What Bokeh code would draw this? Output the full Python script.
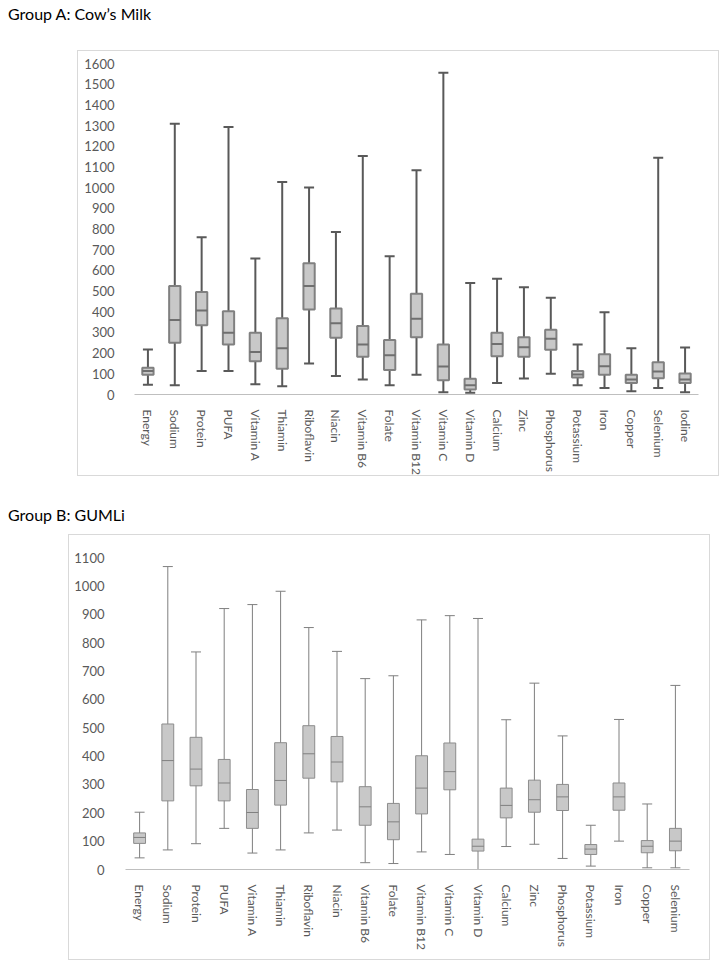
from bokeh.plotting import figure
from bokeh.models import (ColumnDataSource, FactorRange, Range1d, Whisker, TeeHead,
                          FixedTicker, Div)
from bokeh.transform import dodge
from bokeh.layouts import column
from bokeh.embed import file_html
from bokeh.resources import INLINE

# ---------------- data ----------------
title_a = "Group A: Cow\u2019s Milk"
title_b = "Group B: GUMLi"

cats_a = ["Energy", "Sodium", "Protein", "PUFA", "Vitamin A", "Thiamin", "Riboflavin",
          "Niacin", "Vitamin B6", "Folate", "Vitamin B12", "Vitamin C", "Vitamin D",
          "Calcium", "Zinc", "Phosphorus", "Potassium", "Iron", "Copper", "Selenium", "Iodine"]
min_a = [47, 45, 113, 113, 50, 40, 150, 89, 73, 45, 95, 11, 8, 56, 77, 100, 45, 31, 16, 32, 11]
q1_a = [95, 250, 335, 242, 161, 124, 411, 274, 182, 118, 277, 69, 24, 185, 182, 216, 82, 95, 56, 79, 55]
med_a = [113, 360, 406, 298, 206, 223, 524, 345, 242, 190, 366, 135, 45, 244, 229, 269, 97, 137, 73, 111, 73]
q3_a = [129, 524, 495, 403, 298, 369, 635, 416, 331, 263, 487, 242, 76, 298, 277, 313, 113, 195, 95, 156, 102]
max_a = [218, 1309, 760, 1293, 658, 1027, 1001, 785, 1153, 668, 1084, 1555, 539, 560, 518, 468, 242, 397, 224, 1144, 227]
ticks_a = [0, 100, 200, 300, 400, 500, 600, 700, 800, 900, 1000, 1100, 1200, 1300, 1400, 1500, 1600]

cats_b = ["Energy", "Sodium", "Protein", "PUFA", "Vitamin A", "Thiamin", "Riboflavin",
          "Niacin", "Vitamin B6", "Folate", "Vitamin B12", "Vitamin C", "Vitamin D",
          "Calcium", "Zinc", "Phosphorus", "Potassium", "Iron", "Copper", "Selenium"]
min_b = [41, 69, 91, 145, 58, 69, 129, 139, 24, 21, 62, 53, 0, 81, 89, 39, 12, 100, 6, 6]
q1_b = [92, 242, 295, 242, 145, 227, 322, 309, 156, 105, 196, 281, 65, 182, 202, 208, 53, 209, 59, 66]
med_b = [113, 384, 354, 305, 201, 314, 408, 379, 221, 168, 287, 345, 82, 226, 246, 256, 72, 256, 82, 100]
q3_b = [129, 513, 466, 388, 282, 447, 507, 469, 292, 233, 401, 446, 107, 287, 315, 300, 88, 305, 102, 145]
max_b = [202, 1068, 767, 920, 934, 981, 853, 769, 673, 683, 880, 895, 885, 528, 657, 471, 156, 529, 231, 649]
ticks_b = [0, 100, 200, 300, 400, 500, 600, 700, 800, 900, 1000, 1100]

FONT = "Lato"
LABEL_COLOR = "#595959"
BOX_FILL = "#c8c8c8"


def make_panel(cats, mins, q1, med, q3, maxs, ticks, ymax, width, height,
               mb_left, mb_right, mb_top, mb_bottom, y_standoff, margin,
               box_line, whisk_line, med_line, lw):
    src = ColumnDataSource(dict(cat=cats, mn=mins, q1=q1, med=med, q3=q3, mx=maxs))
    p = figure(x_range=FactorRange(factors=cats), y_range=Range1d(0, ymax),
               width=width, height=height, output_backend="svg", toolbar_location=None,
               min_border_left=mb_left, min_border_right=mb_right,
               min_border_top=mb_top, min_border_bottom=mb_bottom, margin=margin)
    p.styles = {"border": "1px solid #d9d9d9"}
    w = Whisker(source=src, base="cat", lower="mn", upper="mx",
                line_color=whisk_line, line_width=lw,
                upper_head=TeeHead(size=10, line_color=whisk_line, line_width=lw),
                lower_head=TeeHead(size=10, line_color=whisk_line, line_width=lw),
                level="underlay")
    p.add_layout(w)
    p.vbar(x="cat", top="q3", bottom="q1", width=0.42, source=src,
           fill_color=BOX_FILL, line_color=box_line, line_width=lw)
    p.segment(x0=dodge("cat", -0.21, range=p.x_range), x1=dodge("cat", 0.21, range=p.x_range),
              y0="med", y1="med", source=src, line_color=med_line, line_width=lw)

    p.xgrid.visible = False
    p.ygrid.visible = False
    p.outline_line_color = None

    p.xaxis.major_label_orientation = "vertical"
    p.xaxis.major_tick_line_color = None
    p.xaxis.minor_tick_line_color = None
    p.xaxis.axis_line_color = "#bfbfbf"
    p.xaxis.major_label_standoff = 9
    p.xaxis.major_label_text_font = FONT
    p.xaxis.major_label_text_font_size = "12px"
    p.xaxis.major_label_text_color = LABEL_COLOR

    p.yaxis.ticker = FixedTicker(ticks=ticks)
    p.yaxis.axis_line_color = None
    p.yaxis.major_tick_line_color = None
    p.yaxis.minor_tick_line_color = None
    p.yaxis.major_label_standoff = y_standoff
    p.yaxis.major_label_text_font = FONT
    p.yaxis.major_label_text_font_size = "13px"
    p.yaxis.major_label_text_color = LABEL_COLOR
    return p


def make_title(text, margin):
    return Div(text=text, width=400, height=18, margin=margin,
               styles={"font-family": FONT, "font-size": "16px", "color": "#000000",
                       "line-height": "18px"})


div_a = make_title(title_a, (5, 0, 0, 8))
p_a = make_panel(cats_a, min_a, q1_a, med_a, q3_a, max_a, ticks_a, 1600,
                 642, 426, 46, 0, 12, 82, 14, (27, 0, 0, 77),
                 "#808080", "#595959", "#6f6f6f", 2)
div_b = make_title(title_b, (30, 0, 0, 8))
p_b = make_panel(cats_b, min_b, q1_b, med_b, q3_b, max_b, ticks_b, 1100,
                 642, 426, 56, 22, 22, 92, 15, (10, 0, 0, 68),
                 "#8c8c8c", "#7f7f7f", "#808080", 1)

layout = column(div_a, p_a, div_b, p_b, spacing=0)

open("out.html", "w").write(file_html(layout, INLINE))
